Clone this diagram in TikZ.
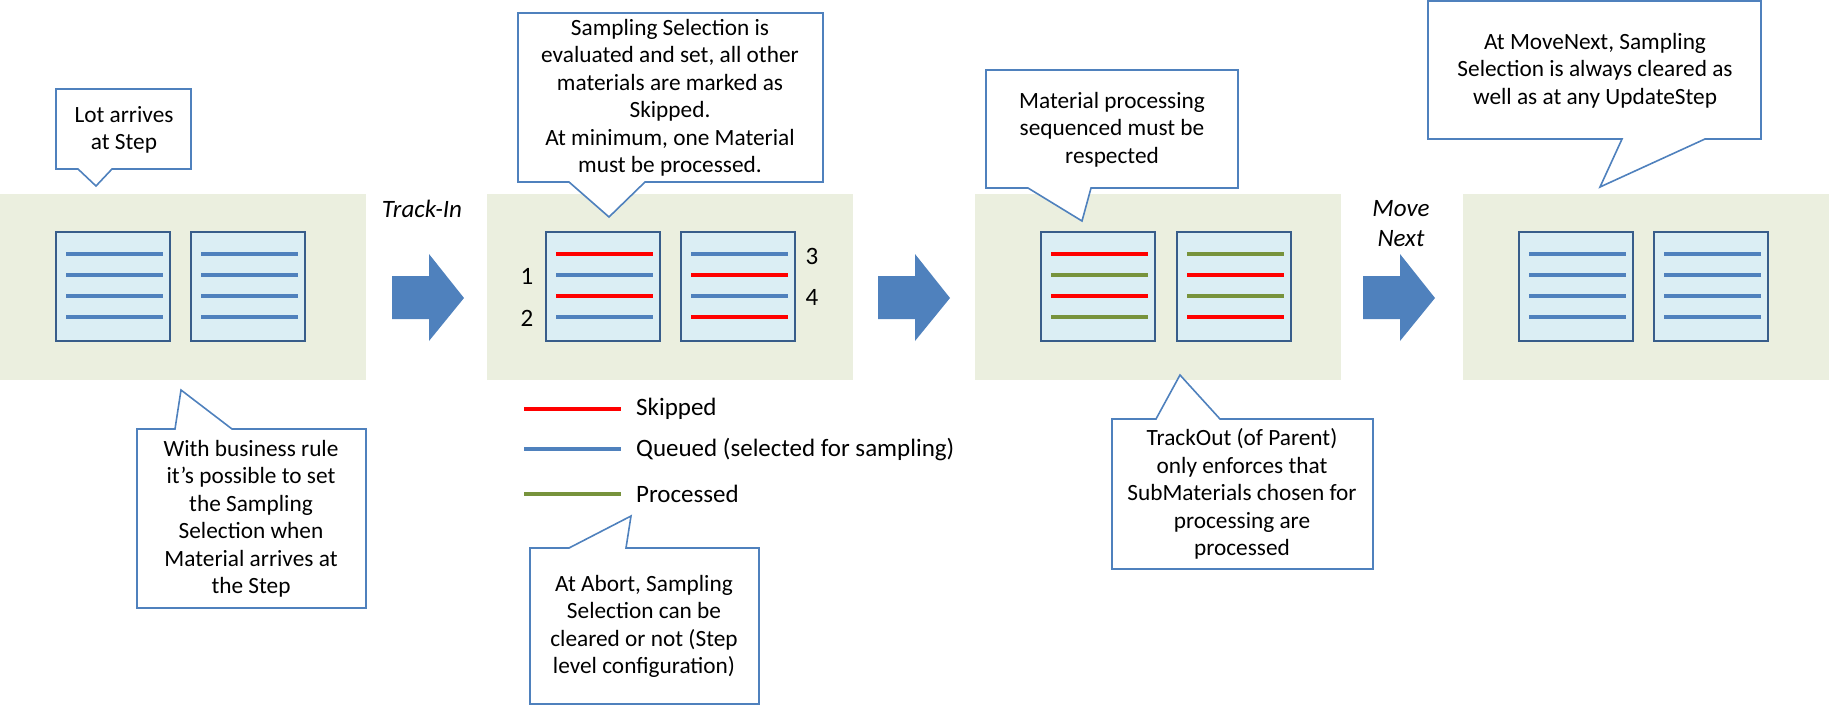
\documentclass[tikz,border=0pt]{standalone}
\usepackage{fontspec}
\setmainfont{Carlito}
\usetikzlibrary{calc}
\definecolor{panelc}{HTML}{EBEFDF}
\definecolor{docfill}{HTML}{DBEEF4}
\definecolor{docdraw}{HTML}{385D8A}
\definecolor{qblue}{HTML}{4F81BD}
\definecolor{sred}{HTML}{FF0000}
\definecolor{pgreen}{HTML}{77933C}
\tikzset{
  panel/.style={fill=panelc, draw=none, minimum width=366, minimum height=186, anchor=north west, inner sep=0pt, outer sep=0pt},
  docbox/.style={fill=docfill, draw=docdraw, line width=2pt, minimum width=114, minimum height=109, anchor=north west, inner sep=0pt, outer sep=0pt},
  docline/.style={line width=4.6pt},
  callout/.style={fill=white, draw=qblue, line width=1.6pt, line join=miter},
  calltext/.style={align=center, inner sep=0pt, font=\fontsize{23.3}{27.5}\selectfont},
  blockarrow/.style={fill=qblue, draw=none},
  steplabel/.style={font=\fontsize{25}{30}\selectfont\itshape, align=center, inner sep=0pt},
  numlabel/.style={inner sep=0pt, font=\fontsize{25}{30}\selectfont},
  legtext/.style={anchor=west, inner sep=0pt, font=\fontsize{25}{30}\selectfont}
}
\newcommand\mydoc[6]{%
  \node[docbox] (#1) at (#2,232) {};
  \draw[docline,#3] ($(#1.north west)+(10,22)$) -- ++(97,0);
  \draw[docline,#4] ($(#1.north west)+(10,43)$) -- ++(97,0);
  \draw[docline,#5] ($(#1.north west)+(10,64)$) -- ++(97,0);
  \draw[docline,#6] ($(#1.north west)+(10,85)$) -- ++(97,0);
}
\newcommand\calldown[8]{%
  \draw[callout] (#1,#2) -- (#3,#2) -- (#3,#4) -- (#6,#4) -- (#7,#8) -- (#5,#4) -- (#1,#4) -- cycle;}
\newcommand\callup[8]{%
  \draw[callout] (#1,#2) -- (#5,#2) -- (#7,#8) -- (#6,#2) -- (#3,#2) -- (#3,#4) -- (#1,#4) -- cycle;}
\newcommand\bigarrow[1]{%
  \fill[blockarrow] (#1,276) -- ({#1+37},276) -- ({#1+37},254) -- ({#1+72},298) -- ({#1+37},341) -- ({#1+37},319) -- (#1,319) -- cycle;}
\begin{document}
\begin{tikzpicture}[x=1pt,y=-1pt]
\useasboundingbox (0,0) rectangle (1829,705);
% panels
\node[panel] (panel1) at (0,194) {};
\node[panel] (panel2) at (487,194) {};
\node[panel] (panel3) at (975,194) {};
\node[panel] (panel4) at (1463,194) {};
% documents
\mydoc{d1a}{56}{qblue}{qblue}{qblue}{qblue}
\mydoc{d1b}{191}{qblue}{qblue}{qblue}{qblue}
\mydoc{d2a}{546}{sred}{qblue}{sred}{qblue}
\mydoc{d2b}{681}{qblue}{sred}{qblue}{sred}
\mydoc{d3a}{1041}{sred}{pgreen}{sred}{pgreen}
\mydoc{d3b}{1177}{pgreen}{sred}{pgreen}{sred}
\mydoc{d4a}{1519}{qblue}{qblue}{qblue}{qblue}
\mydoc{d4b}{1654}{qblue}{qblue}{qblue}{qblue}
% numbers
\node[numlabel] (n1) at (527,276) {1};
\node[numlabel] (n2) at (527,318) {2};
\node[numlabel] (n3) at (812,256) {3};
\node[numlabel] (n4) at (812,297) {4};
% block arrows
\bigarrow{392}
\bigarrow{878}
\bigarrow{1363}
\node[steplabel] (trackin) at (422,209) {Track-In};
\node[steplabel] (movenext) at (1401,224) {Move\\Next};
% callouts
\calldown{56}{89}{191}{169}{78}{112}{96}{186}
\node[calltext] (c1) at (124,130) {Lot arrives\\at Step};
\calldown{518}{13}{823}{182}{569}{645}{609}{217}
\node[calltext] (c2) at (670,98) {Sampling Selection is\\evaluated and set, all other\\materials are marked as\\Skipped.\\At minimum, one Material\\must be processed.};
\calldown{986}{70}{1238}{188}{1028}{1091}{1082}{221}
\node[calltext] (c3) at (1112,129.5) {Material processing\\sequenced must be\\respected};
\calldown{1428}{1}{1761}{139}{1622}{1705}{1600}{187}
\node[calltext] (c4) at (1595,70.5) {At MoveNext, Sampling\\Selection is always cleared as\\well as at any UpdateStep};
\callup{137}{429}{366}{608}{175}{232}{181}{390}
\node[calltext] (c5) at (251,519) {With business rule\\it’s possible to set\\the Sampling\\Selection when\\Material arrives at\\the Step};
\callup{530}{548}{759}{704}{569}{626}{631}{516}
\node[calltext] (c6) at (644,626.5) {At Abort, Sampling\\Selection can be\\cleared or not (Step\\level configuration)};
\callup{1112}{419}{1373}{569}{1156}{1220}{1180}{375}
\node[calltext] (c7) at (1242,494) {TrackOut (of Parent)\\only enforces that\\SubMaterials chosen for\\processing are\\processed};
% legend
\draw[docline,sred] (524,409) -- (621,409);
\draw[docline,qblue] (524,449) -- (621,449);
\draw[docline,pgreen] (524,494) -- (621,494);
\node[legtext] (l1) at (636,409) {Skipped};
\node[legtext] (l2) at (636,449) {Queued (selected for sampling)};
\node[legtext] (l3) at (636,494) {Processed};
\end{tikzpicture}
\end{document}
